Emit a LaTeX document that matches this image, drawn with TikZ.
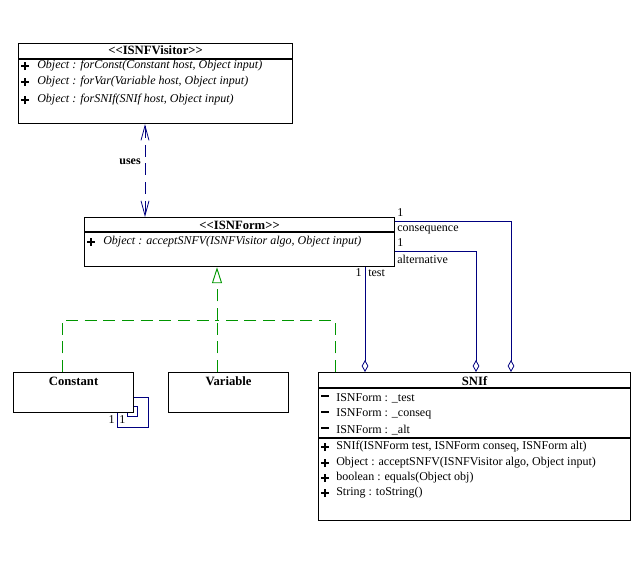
\documentclass[tikz,border=0pt]{standalone}
\usepackage{fontspec}
\setmainfont{Liberation Serif}
\usetikzlibrary{arrows.meta, positioning}
\definecolor{umlblue}{RGB}{0,0,128}
\definecolor{umlgreen}{RGB}{0,150,0}
\newcommand{\pubmark}{\makebox[6pt][l]{\rule[2.4pt]{6pt}{1.4pt}\hspace{-3.7pt}\rule[0pt]{1.4pt}{6.2pt}}}
\newcommand{\privmark}{\rule[2.4pt]{6pt}{1.4pt}}

\begin{document}
\begin{tikzpicture}[x=0.75pt, y=-0.75pt, font=\fontsize{9}{11}\selectfont,
  cls/.style={draw, line width=0.9pt, anchor=north west, inner sep=0pt},
  ttl/.style={font=\fontsize{9.5}{11}\selectfont\bfseries, inner sep=0pt},
  mbr/.style={anchor=west, inner sep=0pt},
  sgn/.style={anchor=west, inner sep=0pt},
  lbl/.style={inner sep=0pt},
  uses/.style={umlblue, line width=0.6pt, dash pattern=on 9pt off 5pt,
    {Straight Barb[length=11pt, width=6pt]}-{Straight Barb[length=11pt, width=6pt]}},
  real/.style={umlgreen, line width=0.7pt, dash pattern=on 9pt off 5pt},
  comp/.style={umlblue, line width=0.6pt, -{Diamond[open, length=9pt, width=5pt, line width=0.6pt]}}]
  \useasboundingbox (0,0) rectangle (642,563);
  % classes
  \node[cls, minimum width=205.5pt, minimum height=60pt] (visitor) at (18,43) {};
  \node[cls, minimum width=232.5pt, minimum height=36.75pt] (form) at (84,217) {};
  \node[cls, minimum width=90pt, minimum height=30pt] (const) at (13,372) {};
  \node[cls, minimum width=90pt, minimum height=30pt] (var) at (168,372) {};
  \node[cls, minimum width=234pt, minimum height=111pt] (snif) at (318,372) {};
  % compartments
  \draw[line width=0.9pt] (visitor.west |- 0,59) -- (visitor.east |- 0,59);
  \draw[line width=0.9pt] (form.west |- 0,232) -- (form.east |- 0,232);
  \draw[line width=0.9pt] (snif.west |- 0,388) -- (snif.east |- 0,388);
  \draw[line width=0.9pt] (snif.west |- 0,438) -- (snif.east |- 0,438);
  % titles
  \node[ttl] (visitorname) at (visitor.north |- 0,50) {<\kern0pt<ISNFVisitor>\kern0pt>};
  \node[ttl] (formname) at (form.north |- 0,225) {<\kern0pt<ISNForm>\kern0pt>};
  \node[ttl] (constname) at (const.north |- 0,381) {Constant};
  \node[ttl] (varname) at (var.north |- 0,381) {Variable};
  \node[ttl] (snifname) at (snif.north |- 0,381) {SNIf};
  % members
  \foreach \y/\t [count=\i] in {66/forConst(Constant host{,}  Object input),
                                82/forVar(Variable host{,}  Object input),
                                100/forSNIf(SNIf host{,}  Object input)} {
    \node[sgn] (vs\i) at (21,\y) {\pubmark};
    \node[mbr] (vm\i) at (37,\y) {\itshape Object : \t};
  }
  \node[sgn] (fs1) at (87,242) {\pubmark};
  \node[mbr] (fm1) at (103,242) {\itshape Object : acceptSNFV(ISNFVisitor algo,  Object input)};
  \foreach \y/\t [count=\i] in {398/\_test, 414/\_conseq, 430/\_alt} {
    \node[sgn] (as\i) at (321,\y) {\privmark};
    \node[mbr] (am\i) at (336,\y) {ISNForm : \t};
  }
  \foreach \y/\t [count=\i] in {447/SNIf(ISNForm test{,} ISNForm conseq{,} ISNForm alt),
                                463/Object : acceptSNFV(ISNFVisitor algo{,} Object input),
                                478/boolean : equals(Object obj),
                                493/String : toString()} {
    \node[sgn] (ms\i) at (321,\y) {\pubmark};
    \node[mbr] (mm\i) at (336,\y) {\t};
  }
  % uses
  \draw[uses] (visitor.south -| 145,0) -- (form.north -| 145,0);
  \node[lbl, anchor=east, font=\fontsize{9}{11}\selectfont\bfseries] (useslbl) at (141,162) {uses};
  % realizations
  \coordinate (junction) at (217,320);
  \draw[real, -{Triangle[open, length=12pt, width=7.5pt, line width=0.7pt]}] (junction) -- (form.south -| junction);
  \draw[real] (const.north -| 62,0) -- (62,320) -- (junction);
  \draw[real] (var.north -| junction) -- (junction);
  \draw[real] (snif.north -| 335,0) -- (335,320) -- (junction);
  % compositions
  \draw[comp] (form.south -| 365,0) -- (snif.north -| 365,0);
  \draw[comp] (form.east |- 0,251) -- (476,251) -- (snif.north -| 476,0);
  \draw[comp] (form.east |- 0,221) -- (511,221) -- (snif.north -| 511,0);
  \node[lbl, anchor=west] (conone) at (397,213) {1};
  \node[lbl, anchor=west] (conlbl) at (397,230) {consequence};
  \node[lbl, anchor=west] (altone) at (397,243) {1};
  \node[lbl, anchor=west] (altlbl) at (397,259) {alternative};
  \node[lbl, anchor=east] (testone) at (362,273) {1};
  \node[lbl, anchor=west] (testlbl) at (368,273) {test};
  % self association
  \draw[umlblue, line width=0.6pt] (const.east |- 0,397) -- (148,397) -- (148,427) -- (117,427) -- (const.south -| 117,0);
  \draw[umlblue, line width=0.6pt] (const.east |- 0,406) -- (137,406) -- (137,416) -- (127,416) -- (const.south -| 127,0);
  \node[lbl, anchor=east] (selfone) at (115,420) {1};
  \node[lbl, anchor=west] (selftwo) at (119,420) {1};
\end{tikzpicture}
\end{document}
